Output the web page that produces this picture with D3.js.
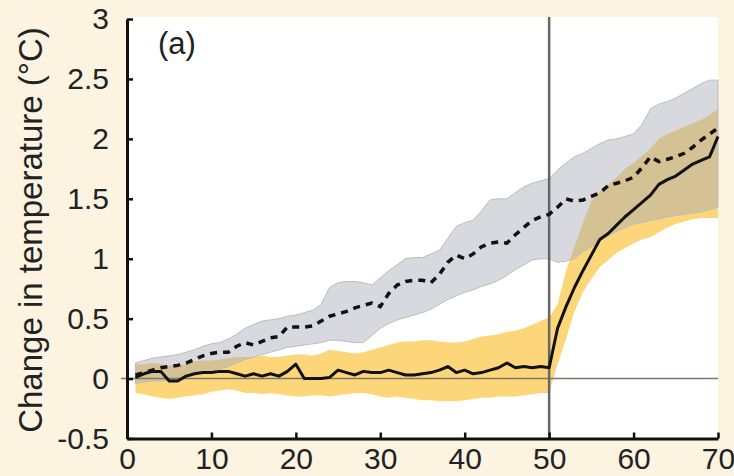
<!DOCTYPE html>
<html>
<head>
<meta charset="UTF-8">
<title>Change in temperature</title>
<script src="https://d3js.org/d3.v7.min.js"></script>
<style>
    body { margin: 0; background: #fdf3e1; }
    text { font-family: "Liberation Sans", Arial, sans-serif; fill: #222; }
</style>
</head>
<body>
<script>
// years 1..70
var years = d3.range(1, 71);

// solid line (black)
var solid = [0.01, 0.04, 0.06, 0.06, -0.02, -0.02, 0.02, 0.04, 0.05, 0.05,
    0.06, 0.06, 0.04, 0.02, 0.04, 0.02, 0.04, 0.02, 0.06, 0.12,
    0.0, 0.0, 0.0, 0.01, 0.07, 0.05, 0.03, 0.06, 0.05, 0.05,
    0.07, 0.05, 0.03, 0.03, 0.04, 0.05, 0.07, 0.1, 0.05, 0.07,
    0.04, 0.05, 0.07, 0.09, 0.13, 0.09, 0.1, 0.09, 0.1, 0.09,
    0.42, 0.6, 0.76, 0.9, 1.03, 1.16, 1.21, 1.28, 1.35, 1.41,
    1.47, 1.53, 1.62, 1.66, 1.69, 1.74, 1.79, 1.82, 1.85, 2.02];

// dashed line
var dashed = [0.03, 0.05, 0.07, 0.09, 0.1, 0.11, 0.13, 0.16, 0.19, 0.21,
    0.22, 0.22, 0.27, 0.3, 0.28, 0.31, 0.34, 0.35, 0.43, 0.43,
    0.43, 0.44, 0.48, 0.52, 0.54, 0.56, 0.59, 0.61, 0.63, 0.6,
    0.71, 0.78, 0.81, 0.82, 0.82, 0.8, 0.87, 0.97, 1.03, 1.0,
    1.04, 1.1, 1.13, 1.14, 1.13, 1.2, 1.26, 1.32, 1.35, 1.37,
    1.43, 1.5, 1.48, 1.49, 1.52, 1.55, 1.61, 1.63, 1.65, 1.68,
    1.76, 1.85, 1.81, 1.83, 1.85, 1.88, 1.93, 1.99, 2.04, 2.09];

// grey band (range around dashed line)
var greyHi = [0.13, 0.15, 0.17, 0.18, 0.19, 0.2, 0.22, 0.24, 0.27, 0.29,
    0.3, 0.33, 0.37, 0.42, 0.45, 0.48, 0.49, 0.5, 0.52, 0.53,
    0.55, 0.57, 0.62, 0.76, 0.8, 0.81, 0.81, 0.8, 0.78, 0.84,
    0.9, 0.95, 1.0, 1.01, 1.01, 1.04, 1.07, 1.17, 1.27, 1.3,
    1.32, 1.4, 1.49, 1.5, 1.5, 1.55, 1.6, 1.63, 1.65, 1.67,
    1.74, 1.8, 1.85, 1.88, 1.92, 1.96, 1.99, 2.0, 2.02, 2.04,
    2.12, 2.25, 2.29, 2.31, 2.34, 2.38, 2.42, 2.46, 2.49, 2.49];
var greyLo = [-0.04, -0.03, -0.02, -0.02, -0.01, 0.0, 0.01, 0.03, 0.05, 0.06,
    0.08, 0.1, 0.13, 0.16, 0.18, 0.2, 0.22, 0.24, 0.26, 0.27,
    0.28, 0.29, 0.3, 0.32, 0.32, 0.31, 0.3, 0.3, 0.36, 0.42,
    0.46, 0.49, 0.51, 0.53, 0.55, 0.58, 0.62, 0.66, 0.69, 0.72,
    0.74, 0.77, 0.79, 0.82, 0.86, 0.91, 0.95, 0.99, 1.0, 1.0,
    0.97, 0.98, 1.0, 1.06, 1.1, 1.15, 1.19, 1.23, 1.26, 1.29,
    1.3, 1.32, 1.33, 1.35, 1.36, 1.37, 1.38, 1.39, 1.41, 1.43];

// yellow band (range around solid line)
var yellowHi = [0.12, 0.12, 0.13, 0.12, 0.11, 0.11, 0.12, 0.14, 0.15, 0.15,
    0.16, 0.17, 0.18, 0.18, 0.18, 0.19, 0.18, 0.18, 0.19, 0.2,
    0.2, 0.19, 0.21, 0.24, 0.23, 0.22, 0.21, 0.22, 0.24, 0.26,
    0.28, 0.3, 0.31, 0.31, 0.32, 0.32, 0.31, 0.3, 0.3, 0.31,
    0.33, 0.35, 0.36, 0.37, 0.39, 0.4, 0.42, 0.45, 0.48, 0.51,
    0.62, 0.9, 1.1, 1.3, 1.48, 1.56, 1.62, 1.68, 1.75, 1.8,
    1.86, 1.92, 2.0, 2.04, 2.07, 2.1, 2.13, 2.16, 2.2, 2.25];
var yellowLo = [-0.12, -0.13, -0.15, -0.16, -0.17, -0.16, -0.15, -0.14, -0.13, -0.11,
    -0.1, -0.09, -0.1, -0.12, -0.12, -0.13, -0.12, -0.13, -0.14, -0.15,
    -0.15, -0.14, -0.14, -0.15, -0.14, -0.13, -0.12, -0.12, -0.13, -0.15,
    -0.16, -0.15, -0.16, -0.17, -0.18, -0.18, -0.19, -0.19, -0.19, -0.18,
    -0.17, -0.16, -0.16, -0.15, -0.15, -0.15, -0.14, -0.13, -0.12, -0.12,
    0.12, 0.33, 0.56, 0.72, 0.83, 0.93, 0.99, 1.05, 1.09, 1.13,
    1.16, 1.18, 1.22, 1.26, 1.29, 1.31, 1.33, 1.34, 1.34, 1.34];

var yTicks = [-0.5, 0, 0.5, 1, 1.5, 2, 2.5, 3];
var xTicks = [0, 10, 20, 30, 40, 50, 60, 70];

var width = 734, height = 476;
var plotLeft = 127, plotRight = 718, plotTop = 19, plotBottom = 438.5;

var svg = d3.select("body").append("svg")
    .attr("width", width).attr("height", height);

var x = d3.scaleLinear().domain([0, 70]).range([plotLeft, plotRight]);
var y = d3.scaleLinear().domain([-0.5, 3]).range([plotBottom, plotTop]);

// white plot area
svg.append("rect")
    .attr("x", plotLeft).attr("y", 17)
    .attr("width", plotRight - plotLeft).attr("height", plotBottom - 17)
    .attr("fill", "#fff");

var rows = years.map(function (yr, i) {
    return { yr: yr, s: solid[i], d: dashed[i], gh: greyHi[i], gl: greyLo[i], yh: yellowHi[i], yl: yellowLo[i] };
});

// yellow band
svg.append("path").datum(rows)
    .attr("fill", "#fcd678")
    .attr("d", d3.area().x(function (d) { return x(d.yr); })
        .y0(function (d) { return y(d.yl); })
        .y1(function (d) { return y(d.yh); }));

// grey band on top, see-through so overlap turns tan
svg.append("path").datum(rows)
    .attr("fill", "#a6abb6").attr("fill-opacity", 0.45)
    .attr("stroke", "#b9bcc2").attr("stroke-width", 1)
    .attr("d", d3.area().x(function (d) { return x(d.yr); })
        .y0(function (d) { return y(d.gl); })
        .y1(function (d) { return y(d.gh); }));

// zero line
svg.append("line")
    .attr("x1", plotLeft - 6).attr("x2", plotRight)
    .attr("y1", y(0)).attr("y2", y(0))
    .attr("stroke", "#7d7668").attr("stroke-width", 1.5);

// year 50 marker
svg.append("line")
    .attr("x1", x(50)).attr("x2", x(50))
    .attr("y1", 17).attr("y2", plotBottom)
    .attr("stroke", "#666").attr("stroke-width", 2.5);

// dashed line
svg.append("path").datum(rows)
    .attr("fill", "none").attr("stroke", "#111")
    .attr("stroke-width", 3.5).attr("stroke-dasharray", "7,6")
    .attr("d", d3.line().x(function (d) { return x(d.yr); }).y(function (d) { return y(d.d); }));

// solid line
svg.append("path").datum(rows)
    .attr("fill", "none").attr("stroke", "#111")
    .attr("stroke-width", 3).attr("stroke-linejoin", "round")
    .attr("d", d3.line().x(function (d) { return x(d.yr); }).y(function (d) { return y(d.s); }));

// axes, ticks point inward
var yAxis = svg.append("g")
    .attr("transform", "translate(" + plotLeft + ",0)")
    .call(d3.axisLeft(y).tickValues(yTicks).tickFormat(function (d) { return String(d); })
        .tickSizeInner(-6).tickSizeOuter(0).tickPadding(18));
var xAxis = svg.append("g")
    .attr("transform", "translate(0," + plotBottom + ")")
    .call(d3.axisBottom(x).tickValues(xTicks).tickSizeInner(-6).tickSizeOuter(0).tickPadding(9));

[yAxis, xAxis].forEach(function (g) {
    g.select(".domain").attr("stroke", "#111").attr("stroke-width", 3);
    g.selectAll(".tick line").attr("stroke", "#111").attr("stroke-width", 2.5);
    g.selectAll(".tick text").attr("font-size", 30).attr("fill", "#222")
        .style("font-family", "'Liberation Sans', Arial, sans-serif");
});

// panel label
svg.append("text")
    .attr("x", 158).attr("y", 54)
    .attr("font-size", 31)
    .text("(a)");

// y title
svg.append("text")
    .attr("transform", "translate(42," + 230 + ") rotate(-90)")
    .attr("text-anchor", "middle")
    .attr("font-size", 33)
    .text("Change in temperature (°C)");
</script>
</body>
</html>
